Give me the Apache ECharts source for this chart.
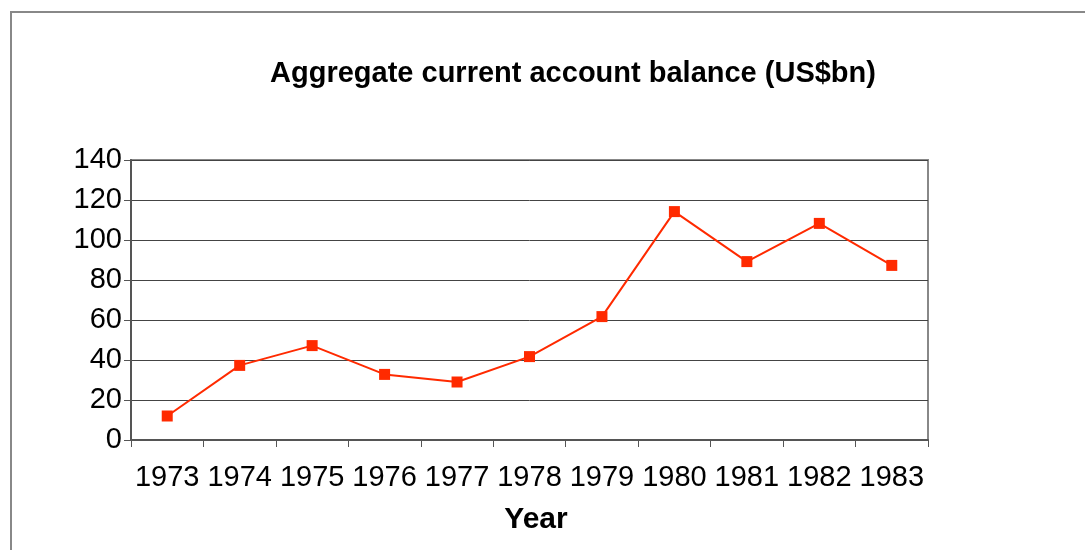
<!DOCTYPE html>
<html>
<head>
<meta charset="utf-8">
<script src="https://cdn.jsdelivr.net/npm/echarts@6/dist/echarts.min.js"></script>
<style>
  html, body { margin: 0; padding: 0; background: #fff; }
  #chart { width: 1085px; height: 550px; }
</style>
</head>
<body>
<div id="chart"></div>
<script>
// data
var years = ["1973", "1974", "1975", "1976", "1977", "1978", "1979", "1980", "1981", "1982", "1983"];
var balance = [12, 37.3, 47.2, 32.8, 29, 41.7, 61.7, 114.2, 89.2, 108.3, 87.3];
var yMin = 0, yMax = 140, yStep = 20;

var chartTitle = "Aggregate current account balance (US$bn)";
var xName = "Year";

var font = "'Liberation Sans', Arial, sans-serif";
var myChart = echarts.init(document.getElementById("chart"));

myChart.setOption({
  animation: false,
  backgroundColor: "#fff",
  textStyle: { fontFamily: font },
  graphic: [
    {
      type: "rect",
      shape: { x: 11, y: 12, width: 1200, height: 700 },
      style: { fill: "none", stroke: "#888", lineWidth: 2 },
      silent: true
    },
    {
      type: "text",
      x: 573,
      y: 74,
      style: {
        text: chartTitle,
        font: "bold 29px " + font,
        fill: "#000",
        textAlign: "center",
        textVerticalAlign: "middle"
      }
    }
  ],
  grid: {
    left: 131,
    right: 157,
    top: 160,
    bottom: 110,
    show: true,
    borderColor: "#888",
    borderWidth: 2,
    containLabel: false
  },
  xAxis: {
    type: "category",
    data: years,
    boundaryGap: true,
    name: xName,
    nameLocation: "middle",
    nameGap: 65,
    nameTextStyle: { fontSize: 30, fontWeight: "bold", color: "#000", padding: [0, 0, 0, 13] },
    axisLine: { lineStyle: { color: "#555", width: 2 } },
    axisTick: { show: true, interval: 0, length: 7, lineStyle: { color: "#555", width: 1 } },
    axisLabel: { interval: 0, fontSize: 29, color: "#000", margin: 23 },
    splitLine: { show: false }
  },
  yAxis: {
    type: "value",
    min: yMin,
    max: yMax,
    interval: yStep,
    axisLine: { show: true, lineStyle: { color: "#555", width: 2 } },
    axisTick: { show: true, length: 7, lineStyle: { color: "#555", width: 1 } },
    axisLabel: { fontSize: 29, color: "#000", margin: 9, padding: [6, 0, 0, 0] },
    splitLine: { show: true, lineStyle: { color: "#444", width: 1 } }
  },
  series: [
    {
      type: "line",
      data: balance,
      symbol: "rect",
      symbolSize: 11,
      itemStyle: { color: "#ff2a00" },
      lineStyle: { color: "#ff2a00", width: 2 }
    }
  ]
});
</script>
</body>
</html>
